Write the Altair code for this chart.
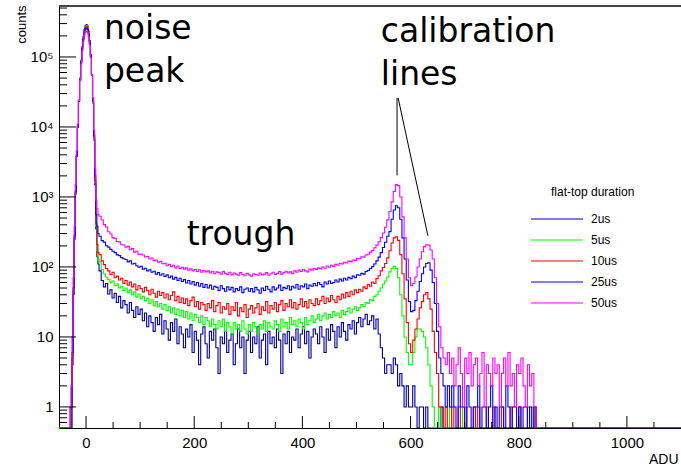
import altair as alt
import pandas as pd

series_names = ["2us", "5us", "10us", "25us", "50us"]
series_colors = ["#000099", "#00ff00", "#ff0000", "#0000ff", "#ff00ff"]

# bin left edges (ADU): empty left tail, 2-ADU peak bins, 4-ADU bins afterwards
bin_edges = [-50] + list(range(-30, 24, 2)) + list(range(24, 560, 4)) + list(range(560, 844, 4))
x_end = 1100

# counts per bin
c2us = ([0]
        + [0, 0, 4, 40, 250, 1100, 3800, 10000, 24000, 50000, 90000, 140000, 195000, 245000,
           280000, 290000, 275000, 232000, 172000, 108000, 56000, 22000, 6500, 1500, 350, 140, 110]
        + [88, 64, 52, 58, 41, 47, 36, 42, 31, 38,
           26, 33, 29, 22, 31, 24, 19, 27, 21, 25,
           17, 22, 14, 20, 16, 12, 19, 15, 21, 11,
           17, 13, 9, 16, 12, 18, 8, 14, 11, 7,
           13, 10, 15, 6, 12, 9, 4, 11, 14, 8,
           5, 12, 9, 13, 7, 3, 10, 8, 12, 6,
           9, 11, 4, 8, 13, 7, 10, 3, 9, 12,
           6, 10, 8, 14, 5, 9, 11, 4, 12, 8,
           10, 7, 13, 9, 3, 11, 8, 12, 6, 10,
           9, 13, 7, 11, 14, 8, 12, 5, 10, 13,
           11, 8, 14, 10, 6, 13, 9, 15, 12, 7,
           14, 10, 16, 12, 9, 15, 13, 17, 11, 16,
           19, 14, 18, 21, 15, 17, 20, 13, 18, 11,
           7, 5, 3, 4]
        + [4, 3, 5, 4, 2, 3, 2, 1, 2, 1,
           1, 2, 1, 0, 1, 1, 0, 1, 0, 0,
           0, 0, 0, 0, 1, 0, 0, 0, 0, 0,
           0, 0, 0, 0, 0, 0, 0, 0, 0, 0,
           0, 0, 0, 0, 0, 0, 0, 0, 0, 0,
           0, 0, 0, 0, 0, 0, 0, 0, 0, 0,
           0, 0, 0, 0, 0, 0, 0, 0, 0, 0]
        + [0])
c5us = ([0]
        + [0, 0, 5, 45, 260, 1150, 3900, 10000, 24000, 49000, 88000, 137000, 190000, 240000,
           273000, 282000, 268000, 227000, 168000, 106000, 55000, 22000, 6600, 1600, 380, 170, 130]
        + [118, 92, 80, 72, 66, 60, 63, 54, 57, 50,
           53, 46, 50, 43, 47, 40, 44, 37, 41, 35,
           38, 33, 36, 30, 34, 28, 32, 27, 30, 25,
           29, 24, 27, 22, 26, 21, 25, 20, 24, 19,
           23, 18, 22, 17, 21, 19, 16, 20, 15, 19,
           17, 14, 18, 15, 13, 17, 14, 18, 12, 16,
           14, 11, 16, 13, 15, 12, 17, 13, 11, 15,
           12, 16, 14, 11, 15, 13, 17, 12, 16, 14,
           13, 17, 15, 12, 18, 14, 16, 13, 19, 15,
           17, 14, 18, 16, 13, 19, 15, 17, 20, 16,
           18, 21, 17, 20, 22, 18, 21, 19, 23, 20,
           22, 19, 24, 21, 23, 26, 22, 25, 27, 24,
           26, 29, 27, 31, 30, 34, 33, 38, 40, 45,
           50, 57, 63, 72]
        + [85, 95, 102, 95, 70, 40, 20, 10, 6, 4,
           4, 6, 10, 13, 13, 12, 10, 7, 4, 2,
           1, 0, 0, 1, 0, 0, 0, 0, 1, 0,
           0, 0, 0, 0, 1, 0, 0, 0, 0, 0,
           0, 0, 0, 0, 0, 0, 0, 0, 0, 0,
           0, 0, 0, 0, 0, 0, 0, 0, 0, 0,
           0, 0, 0, 0, 0, 0, 1, 0, 0, 0]
        + [0])
c10us = ([0]
         + [0, 0, 5, 45, 260, 1150, 3900, 10000, 23500, 48000, 86000, 133000, 185000, 232000,
            264000, 272000, 258000, 220000, 164000, 104000, 55000, 23000, 7000, 1700, 420, 210, 160]
         + [150, 122, 108, 95, 88, 78, 84, 70, 74, 65,
            69, 58, 64, 55, 61, 52, 57, 47, 54, 49,
            44, 51, 46, 40, 48, 42, 37, 45, 39, 43,
            36, 41, 34, 39, 44, 33, 38, 31, 36, 30,
            35, 28, 33, 37, 27, 32, 25, 31, 29, 24,
            30, 26, 33, 23, 28, 31, 22, 27, 25, 30,
            21, 27, 24, 31, 20, 26, 23, 29, 19, 25,
            28, 22, 26, 30, 21, 27, 24, 32, 22, 28,
            25, 31, 23, 29, 33, 24, 30, 27, 34, 26,
            31, 25, 29, 35, 27, 32, 26, 34, 30, 28,
            35, 29, 33, 38, 30, 36, 32, 39, 34, 31,
            38, 34, 41, 36, 43, 38, 45, 40, 47, 43,
            48, 45, 52, 49, 56, 53, 61, 58, 68, 75,
            88, 98, 112, 135]
         + [170, 220, 260, 270, 240, 150, 80, 35, 16, 8,
            6, 9, 13, 18, 26, 32, 40, 43, 35, 25,
            12, 6, 3, 1, 1, 0, 1, 0, 0, 1,
            0, 0, 1, 0, 0, 1, 0, 0, 0, 1,
            0, 1, 0, 0, 0, 1, 0, 0, 1, 0,
            0, 0, 1, 0, 0, 0, 1, 0, 0, 0,
            1, 0, 0, 0, 1, 0, 0, 1, 0, 0]
         + [0])
c25us = ([0]
         + [0, 1, 6, 50, 280, 1200, 4000, 10000, 23000, 47000, 84000, 130000, 178000, 222000,
            252000, 260000, 247000, 212000, 160000, 103000, 56000, 24000, 7600, 2000, 560, 380, 300]
         + [275, 238, 226, 201, 192, 178, 168, 160, 149, 145,
            136, 131, 128, 118, 122, 110, 113, 104, 99, 102,
            93, 96, 88, 91, 84, 87, 79, 83, 76, 80,
            73, 77, 70, 74, 67, 71, 64, 69, 62, 66,
            59, 64, 57, 62, 55, 60, 53, 58, 51, 56,
            50, 55, 48, 53, 51, 46, 54, 49, 45, 52,
            47, 51, 44, 49, 46, 52, 43, 48, 50, 45,
            49, 44, 51, 47, 42, 50, 46, 53, 48, 44,
            52, 47, 50, 55, 46, 51, 49, 54, 47, 53,
            50, 56, 48, 54, 52, 57, 49, 55, 53, 58,
            54, 60, 56, 52, 61, 57, 63, 58, 60, 65,
            61, 67, 63, 69, 65, 71, 68, 74, 70, 77,
            76, 81, 79, 86, 89, 95, 101, 110, 122, 138,
            160, 190, 225, 275]
         + [320, 480, 650, 750, 700, 480, 260, 130, 65, 32,
            23, 24, 33, 45, 62, 80, 100, 112, 115, 90,
            60, 30, 12, 5, 3, 2, 1, 2, 1, 2,
            1, 0, 2, 1, 1, 0, 2, 1, 0, 1,
            1, 2, 0, 1, 1, 0, 1, 2, 0, 1,
            0, 1, 1, 0, 2, 1, 0, 1, 1, 0,
            1, 0, 1, 1, 0, 1, 0, 1, 0, 0]
         + [0])
c50us = ([0]
         + [1, 2, 10, 70, 380, 1500, 4600, 11000, 24000, 46000, 80000, 122000, 165000, 205000,
            230000, 235000, 224000, 193000, 148000, 98000, 56000, 26000, 9000, 2600, 900, 680, 560]
         + [530, 468, 402, 372, 318, 296, 262, 255, 231, 228,
            208, 206, 191, 197, 176, 183, 162, 168, 151, 153,
            148, 139, 141, 130, 134, 123, 126, 117, 120, 111,
            113, 104, 109, 101, 106, 97, 103, 95, 99, 93,
            97, 90, 94, 88, 92, 86, 91, 84, 89, 85,
            88, 82, 87, 80, 85, 83, 79, 86, 81, 78,
            84, 77, 82, 79, 76, 83, 78, 75, 81, 77,
            74, 80, 78, 76, 82, 77, 79, 83, 76, 80,
            84, 78, 81, 86, 79, 83, 87, 82, 85, 80,
            88, 84, 90, 86, 92, 88, 85, 93, 90, 95,
            92, 97, 94, 100, 96, 103, 99, 106, 102, 109,
            106, 113, 110, 117, 114, 121, 119, 126, 124, 132,
            131, 140, 138, 148, 152, 163, 172, 188, 205, 228,
            262, 305, 370, 470]
         + [620, 850, 1200, 1500, 1450, 1000, 520, 260, 130, 70,
            54, 58, 72, 100, 130, 165, 195, 208, 205, 175,
            130, 70, 30, 14, 7, 5, 4, 6, 3, 5,
            2, 4, 7, 3, 1, 5, 3, 6, 2, 4,
            5, 2, 3, 6, 1, 4, 3, 2, 5, 3,
            4, 1, 3, 5, 2, 6, 2, 3, 1, 4,
            3, 5, 2, 1, 4, 2, 3, 1, 0, 0]
         + [0])

series_counts = [c2us, c5us, c10us, c25us, c50us]

x_major = [0, 200, 400, 600, 800, 1000]
x_minor = [v for v in range(50, 1100, 50) if v % 200 != 0]
y_major = [1, 10, 100, 1000, 10000, 100000]
y_minor = [m * 10 ** k / 10 for k in range(0, 7) for m in range(2, 10)]
y_minor = [v for v in y_minor if 0.5 < v < 5.4e5]

rows = []
for name, counts in zip(series_names, series_counts):
    assert len(counts) == len(bin_edges), (name, len(counts), len(bin_edges))
    for x, c in zip(bin_edges, counts):
        rows.append({"adu": x, "count": c, "series": name})
    rows.append({"adu": x_end, "count": counts[-1], "series": name})
df = pd.DataFrame(rows)

W, H = 622, 422
xscale = alt.Scale(domain=[-50, 1100], nice=False, zero=False)
yscale = alt.Scale(type="log", domain=[0.5, 5.35e5], nice=False, clamp=True)
FONT = "Liberation Sans"

lines = alt.Chart(df).transform_calculate(
    yplot="max(datum.count, 0.3)"
).mark_line(interpolate="step-after", strokeWidth=1.1, clip=True).encode(
    x=alt.X("adu:Q", scale=xscale,
            axis=alt.Axis(values=x_major, format="d", ticks=False, grid=False,
                          domainColor="black", labelFont=FONT, labelFontSize=15,
                          labelColor="black", labelPadding=7,
                          title="ADU", titleFont=FONT, titleFontSize=14,
                          titleFontWeight="normal", titleColor="black",
                          titleAlign="right", titleAnchor="end",
                          titleX=W - 3, titleY=35, titleBaseline="alphabetic")),
    y=alt.Y("yplot:Q", scale=yscale,
            axis=alt.Axis(values=y_major, ticks=False, grid=False,
                          domainColor="black", labelFont=FONT, labelFontSize=15,
                          labelColor="black", labelPadding=6,
                          labelExpr="datum.value < 5 ? '1' : datum.value < 50 ? '10' : datum.value < 500 ? '10²' : datum.value < 5000 ? '10³' : datum.value < 50000 ? '10⁴' : '10⁵'",
                          title="counts", titleFont=FONT, titleFontSize=13,
                          titleFontWeight="normal", titleColor="black",
                          titleAngle=270, titleAlign="right", titleBaseline="alphabetic",
                          titleX=-34, titleY=-1)),
    color=alt.Color("series:N", sort=series_names,
                    scale=alt.Scale(domain=series_names, range=series_colors),
                    legend=alt.Legend(title="flat-top duration", orient="none",
                                      legendX=492, legendY=181,
                                      symbolType="M-5.2,0H5.2", symbolSize=100,
                                      symbolStrokeWidth=1.2,
                                      labelFont=FONT, labelFontSize=12, labelColor="black",
                                      titleFont=FONT, titleFontSize=12, titleFontWeight="normal",
                                      titleColor="black", titlePadding=14,
                                      labelOffset=28, rowPadding=9)),
    order=alt.Order("adu:Q"),
)

xmaj_df = pd.DataFrame({"v": x_major})
xmin_df = pd.DataFrame({"v": x_minor})
ymaj_df = pd.DataFrame({"v": y_major})
ymin_df = pd.DataFrame({"v": y_minor})

xmaj = alt.Chart(xmaj_df).mark_rule(color="black", strokeWidth=1).encode(
    x=alt.X("v:Q", scale=xscale), y=alt.value(H), y2=alt.value(H - 12))
xmin = alt.Chart(xmin_df).mark_rule(color="black", strokeWidth=1).encode(
    x=alt.X("v:Q", scale=xscale), y=alt.value(H), y2=alt.value(H - 6))
ymaj = alt.Chart(ymaj_df).mark_rule(color="black", strokeWidth=1).encode(
    y=alt.Y("v:Q", scale=yscale), x=alt.value(0), x2=alt.value(17))
ymin = alt.Chart(ymin_df).mark_rule(color="black", strokeWidth=1).encode(
    y=alt.Y("v:Q", scale=yscale), x=alt.value(0), x2=alt.value(8))
top = alt.Chart(xmaj_df).mark_rule(color="#444444", strokeWidth=1).encode(
    x=alt.value(0), x2=alt.value(W), y=alt.value(0))

notes = pd.DataFrame({
    "text": ["noise", "peak", "trough", "calibration", "lines"],
    "adu": [33, 33, 186, 545, 545],
    "cnt": [182500, 44400, 208, 161700, 40200],
})
labels = alt.Chart(notes).mark_text(font="DejaVu Sans", fontSize=33, align="left",
                                    baseline="alphabetic", color="black").encode(
    x=alt.X("adu:Q", scale=xscale), y=alt.Y("cnt:Q", scale=yscale), text="text:N")

ptr = pd.DataFrame({"x1": [575, 577], "y1": [26000, 26000], "x2": [575, 632], "y2": [2030, 280]})
pointers = alt.Chart(ptr).mark_rule(color="black", strokeWidth=1).encode(
    x=alt.X("x1:Q", scale=xscale), y=alt.Y("y1:Q", scale=yscale), x2="x2:Q", y2="y2:Q")

chart = alt.layer(lines, xmaj, xmin, ymaj, ymin, top, labels, pointers).properties(
    width=W, height=H,
    padding={"left": 59, "top": 6, "right": 0, "bottom": 43},
    autosize=alt.AutoSizeParams(type="none"),
    background="white",
).configure_view(stroke=None)

chart.save("out.html", embed_options={"renderer": "svg", "actions": False})
